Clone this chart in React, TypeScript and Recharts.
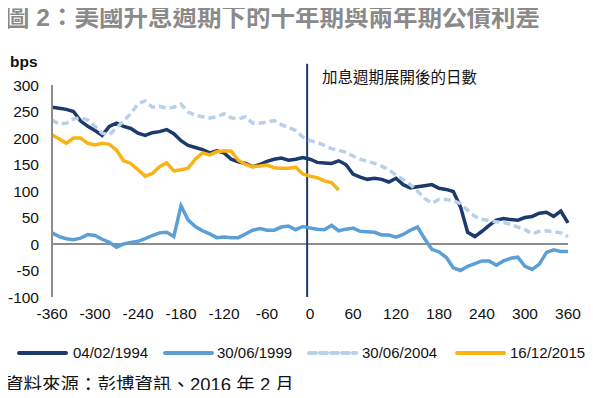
import React from "react";
import { LineChart, Line, XAxis, YAxis, ReferenceLine } from "recharts";

const days = [
  -360, -350, -340, -330, -320, -310, -300, -290, -280, -270, -260, -250, -240, -230, -220, -210, -200, -190, -180,
  -170, -160, -150, -140, -130, -120, -110, -100, -90, -80, -70, -60, -50, -40, -30, -20, -10, 0, 10, 20, 30, 40, 50,
  60, 70, 80, 90, 100, 110, 120, 130, 140, 150, 160, 170, 180, 190, 200, 210, 220, 230, 240, 250, 260, 270, 280, 290,
  300, 310, 320, 330, 340, 350, 360,
];

const s1994 = [
  258, 256, 254, 250, 232, 222, 214, 205, 222, 228, 222, 218, 209, 205, 210, 212, 216, 208, 195, 186, 182, 178, 172,
  176, 172, 160, 155, 152, 146, 150, 156, 160, 162, 158, 160, 163, 160, 154, 153, 152, 157, 150, 132, 126, 122, 124,
  122, 117, 124, 112, 106, 108, 110, 112, 105, 103, 99, 70, 22, 14, 24, 35, 45, 48, 46, 45, 50, 52, 58, 60, 52, 62, 40,
];

const s1999 = [
  21, 14, 10, 8, 11, 18, 16, 9, 3, -6, 0, 3, 5, 10, 16, 21, 22, 14, 72, 45, 33, 25, 19, 12, 13, 12, 12, 19, 26, 29, 26,
  26, 32, 34, 27, 33, 30, 28, 27, 35, 25, 28, 30, 24, 23, 22, 17, 17, 13, 18, 26, 32, 10, -10, -15, -25, -45, -50, -42,
  -37, -32, -32, -40, -32, -27, -25, -42, -48, -38, -16, -11, -14, -14,
];

const s2004 = [
  234, 226, 228, 236, 238, 234, 222, 209, 206, 219, 232, 246, 265, 270, 258, 260, 256, 258, 264, 249, 243, 240, 238,
  240, 246, 238, 236, 240, 228, 228, 230, 233, 225, 220, 214, 202, 195, 192, 186, 180, 177, 173, 166, 160, 156, 152,
  147, 140, 130, 122, 112, 100, 86, 77, 84, 84, 82, 76, 64, 52, 47, 44, 42, 41, 37, 32, 27, 19, 24, 25, 23, 21, 14,
];

const s2015 = [
  206, 198, 190, 200, 200, 190, 187, 190, 188, 177, 157, 152, 140, 128, 133, 146, 153, 138, 140, 143, 160, 172, 168,
  174, 176, 175, 158, 150, 146, 147, 149, 144, 143, 143, 145, 132, 128, 125, 119, 116, 102,
];

const xTicks = [-360, -300, -240, -180, -120, -60, 0, 60, 120, 180, 240, 300, 360];
const yTicks = [-100, -50, 0, 50, 100, 150, 200, 250, 300];

const series = [
  { key: "d1994", name: "04/02/1994", color: "#1c3a6b", dash: undefined },
  { key: "d1999", name: "30/06/1999", color: "#5b9fd5", dash: undefined },
  { key: "d2004", name: "30/06/2004", color: "#b9d0ea", dash: "7 4" },
  { key: "d2015", name: "16/12/2015", color: "#f9b414", dash: undefined },
];

const table = days.map((d, i) => ({
  day: d,
  d1994: s1994[i],
  d1999: s1999[i],
  d2004: s2004[i],
  d2015: i < s2015.length ? s2015[i] : null,
}));

const latin = "'Liberation Sans', Arial, 'Noto Sans CJK TC', sans-serif";
const cjk = "'Liberation Sans', 'Noto Sans CJK TC', sans-serif";

const legendPos = [
  { lx: 17, lw: 51, tx: 73 },
  { lx: 163, lw: 51, tx: 217 },
  { lx: 307, lw: 51, tx: 362 },
  { lx: 455, lw: 51, tx: 510 },
];

const txt: React.CSSProperties = { position: "absolute", lineHeight: 1, whiteSpace: "nowrap", color: "#111" };

export default function App() {
  return (
    <div style={{ position: "relative", width: 593, height: 398, margin: -8, background: "#fff" }}>
      <div style={{ ...txt, left: 5, top: 6, fontFamily: cjk, fontWeight: "bold", fontSize: 24.5, color: "#8a8a8a" }}>
        圖 2：美國升息週期下的十年期與兩年期公債利差
      </div>
      <div style={{ ...txt, left: 10, top: 54, fontFamily: latin, fontWeight: "bold", fontSize: 15.5 }}>bps</div>
      <div style={{ ...txt, left: 322, top: 70, fontFamily: cjk, fontSize: 15.5 }}>加息週期展開後的日數</div>
      <div style={{ position: "absolute", left: 0, top: 0 }}>
        <LineChart width={593} height={398} data={table} margin={{ top: 85, right: 25, bottom: 71, left: 0 }}>
          <XAxis
            dataKey="day"
            type="number"
            domain={[-360, 360]}
            ticks={xTicks}
            axisLine={false}
            tickLine={false}
            tickMargin={5}
            tick={{ fill: "#111", fontSize: 15.5, fontFamily: latin }}
            height={30}
          />
          <YAxis
            domain={[-100, 300]}
            ticks={yTicks}
            width={52}
            axisLine={{ stroke: "#8c8c8c", strokeWidth: 2 }}
            tickLine={false}
            tickMargin={7}
            tick={{ fill: "#111", fontSize: 15.5, fontFamily: latin }}
          />
          <ReferenceLine y={0} stroke="#8c8c8c" strokeWidth={2} />
          <ReferenceLine
            segment={[
              { x: -4, y: -100 },
              { x: -4, y: 340 },
            ]}
            ifOverflow="visible"
            stroke="#1c3a6b"
            strokeWidth={2}
          />
          {series.map((s) => (
            <Line
              key={s.key}
              dataKey={s.key}
              name={s.name}
              stroke={s.color}
              strokeWidth={3.5}
              strokeDasharray={s.dash}
              dot={false}
              type="linear"
              connectNulls={false}
              isAnimationActive={false}
            />
          ))}
        </LineChart>
      </div>
      {series.map((s, i) => (
        <React.Fragment key={s.key}>
          <svg style={{ position: "absolute", left: legendPos[i].lx, top: 350 }} width={legendPos[i].lw} height={6}>
            <line
              x1={2}
              y1={3}
              x2={legendPos[i].lw - 2}
              y2={3}
              stroke={s.color}
              strokeWidth={4}
              strokeLinecap="round"
              strokeDasharray={s.dash ? "7 4" : undefined}
            />
          </svg>
          <div style={{ ...txt, left: legendPos[i].tx, top: 345, fontFamily: latin, fontSize: 15 }}>{s.name}</div>
        </React.Fragment>
      ))}
      <div style={{ ...txt, left: 5, top: 376, fontFamily: cjk, fontSize: 18.5 }}>資料來源：彭博資訊、2016 年 2 月</div>
    </div>
  );
}
